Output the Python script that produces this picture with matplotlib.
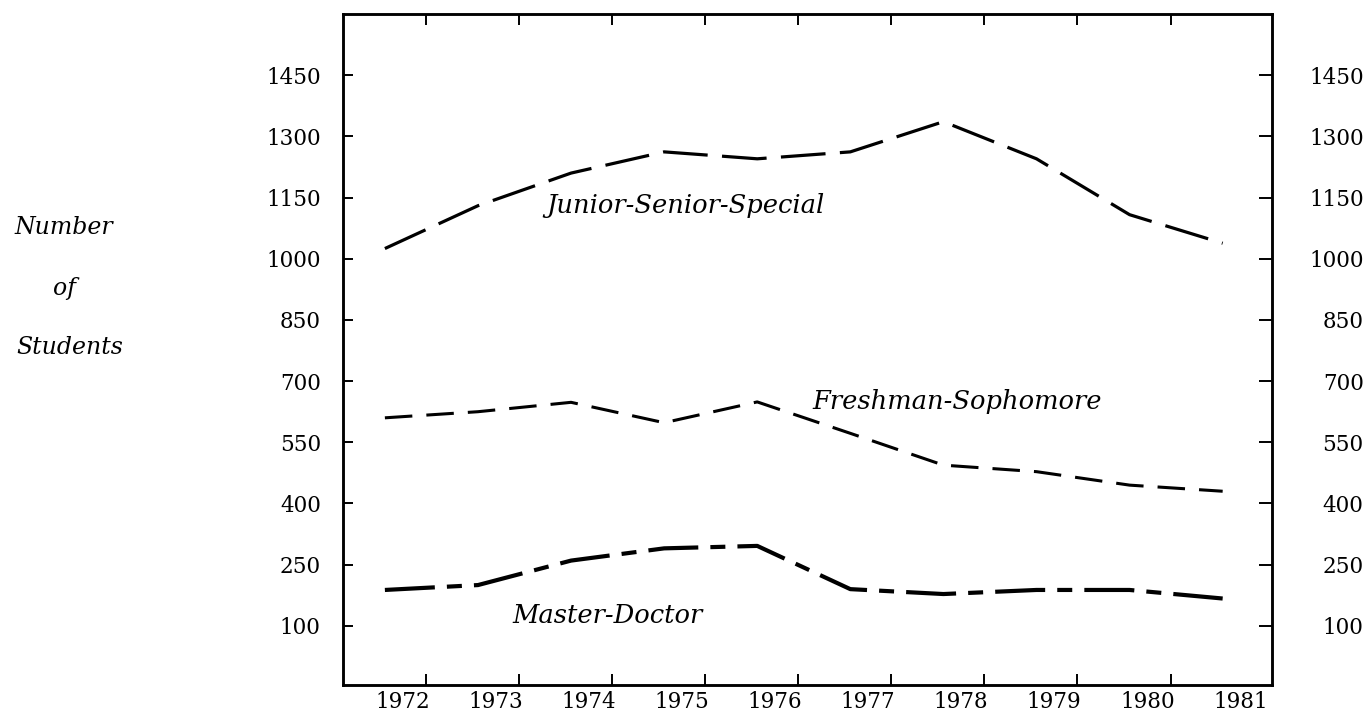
import matplotlib
matplotlib.use("Agg")
import matplotlib.pyplot as plt

years = [1972, 1973, 1974, 1975, 1976, 1977, 1978, 1979, 1980, 1981]
junior = [1025, 1130, 1210, 1262, 1245, 1262, 1336, 1245, 1108, 1038]
freshman = [610, 625, 648, 598, 649, 572, 494, 478, 445, 430]
master = [188, 200, 260, 290, 296, 190, 178, 188, 188, 167]
y_ticks = [100, 250, 400, 550, 700, 850, 1000, 1150, 1300, 1450]

plt.rcParams['font.family'] = ['DejaVu Serif']

W, H = 1371, 716
fig = plt.figure(figsize=(W / 100, H / 100), dpi=100)
left, right, top, bottom = 343, 1272, 14, 685
ax = fig.add_axes([left / W, 1 - bottom / H, (right - left) / W, (bottom - top) / H])

# three series, each with its own dash pattern
ax.plot(years, junior, color='black', lw=2.3, dashes=(14, 4.5))
ax.plot(years, freshman, color='black', lw=2.2, dashes=(9, 4.6))
ax.plot(years, master, color='black', lw=3.0, dashes=(12, 2.9, 3.6, 2.9))

ax.set_xlim(1971.55, 1981.53)
ax.set_ylim(-45, 1600)

# year labels sit a little right of the data points, tick marks further right
ax.set_xticks([y + 0.19 for y in years])
ax.set_xticklabels([str(y) for y in years])
ax.set_xticks([y + 0.44 for y in years[:-1]], minor=True)
ax.tick_params(axis='x', which='major', length=0, pad=4, labelsize=15.5)
ax.tick_params(axis='x', which='minor', direction='in', length=8, width=1.4,
               top=True, bottom=True)

ax.set_yticks(y_ticks)
ax.tick_params(axis='y', direction='in', length=7, width=1.4, pad=16,
               labelsize=15.5, right=False)

ax2 = ax.twinx()
ax2.set_ylim(ax.get_ylim())
ax2.set_yticks(y_ticks)
ax2.tick_params(axis='y', direction='in', length=9.5, width=1.4, pad=66, labelsize=15.5)
for lab in ax2.get_yticklabels():
    lab.set_horizontalalignment('right')

for a in (ax, ax2):
    for sp in a.spines.values():
        sp.set_linewidth(1.8)

ax.text(1975.23, 1130, 'Junior-Senior-Special', style='italic', fontsize=18.5,
        ha='center', va='center')
ax.text(1978.15, 650, 'Freshman-Sophomore', style='italic', fontsize=18.5,
        ha='center', va='center')
ax.text(1974.39, 126, 'Master-Doctor', style='italic', fontsize=18.5,
        ha='center', va='center')

fig.text(64 / W, 1 - 228 / H, 'Number', style='italic', fontsize=17, ha='center', va='center')
fig.text(64 / W, 1 - 288 / H, 'of', style='italic', fontsize=17, ha='center', va='center')
fig.text(70 / W, 1 - 348 / H, 'Students', style='italic', fontsize=17, ha='center', va='center')

fig.savefig('out.png', dpi=100)
